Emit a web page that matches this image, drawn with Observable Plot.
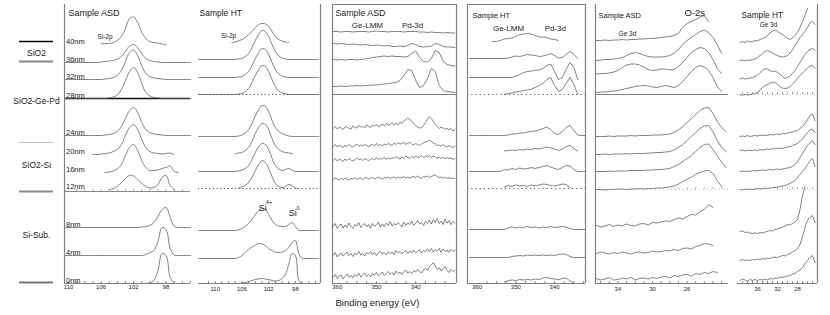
<!DOCTYPE html>
<html><head><meta charset="utf-8">
<script src="https://cdn.jsdelivr.net/npm/d3@7"></script>
<script src="https://cdn.jsdelivr.net/npm/@observablehq/plot@0.6"></script>
<style>
body{margin:0;background:#fff;}
#chart{position:relative;width:830px;height:315px;overflow:hidden;background:#fff;}
#chart svg{position:absolute;top:0;overflow:visible;background:transparent;}
</style></head><body><div id="chart"></div>
<script>
const _ = null;
// sputter depths, top to bottom, and their stacking offsets (intensity units)
const depths = ["40nm","36nm","32nm","28nm","24nm","20nm","16nm","12nm","8nm","4nm","0nm"];
const depthOffset = [239,221,204,185,148,129,111,94,56,28,0];

// legend groups
const groupNames = ["SiO2","SiO2-Ge-Pd","SiO2-Si","Si-Sub."];
const groupLabelLevel = [230,182,118,48];
const groupBoundaryLevel = [242,222,141,92,1];

// ---- Si-2p, sample ASD ----
const si2pAsdEnergy = [110.5,110,109.5,109,108.5,108,107.5,107,106.5,106,105.5,105,104.5,104,103.5,103,102.5,102,101.5,101,100.5,100,99.5,99,98.5,98,97.5,97,96.5,96,95.5,95];
const si2pAsd = [
 [_,_,_,_,_,_,_,_,_,0.5,1,1,2,4,8,16,26,27.5,22,12,6,3,2,1.5,0.5,0,_,_,_,_,_,_],
 [0,0,0,0,0,0,0,0,0,0.5,1,1.5,2,3.5,6,11,16.5,18,15,9,4,2,1,0.5,0,0,0,0,0,0,0,0],
 [0,0,0,0,0,0,0,0,0,0,0.5,1,2,4,9,18,27,29.5,24,14,6,3,1.5,1,0.5,0,0,0,0,0,0,0],
 [0,0,0,0,0,0,0,0,0,0,0,0.5,1.5,3.5,9,18,27,31,26,15,6,2.5,1,0.5,0,0,0,0,0,0,0,0],
 [0,0,0,0,0,0,0,0,0,0,0.5,1,2,4,9,17,25,28,23,13,6,3,1.5,1,0.5,0,0,0,0,0,0,0],
 [_,_,_,_,_,_,_,0,0,0.5,1,1.5,3,5,10,19,27,30,25,15,7,3,1.5,1,0.5,1,1.5,0,_,_,_,_],
 [_,_,_,_,_,_,_,_,_,_,0,0.5,1.5,3.5,8,17,25,28,22,12,5,2,2,2.5,4,5,6.5,1,0,_,_,_],
 [_,_,_,_,_,_,_,_,_,_,_,0,1,3,7,11,14,13.5,10,6,3,1.5,2,5,12,14,4,0,_,_,_,_],
 [0,0,0,0,0,0,0,0,0,0,0,0,0,0,0,0,0,0,0,0.5,1,2,5,11,18,20,10,1,0,0,0,0],
 [0,0,0,0,0,0,0,0,0,0,0,0,0,0,0,0,0,0,0,0,1,3,5,14,28,26,7,0.5,0,0,0,0],
 [_,_,_,_,_,_,_,_,_,_,_,_,_,_,_,_,_,_,_,_,0,0.5,3,13,30,28,6,0,_,_,_,_]
];

// ---- Si-2p, sample HT ----
const si2pHtEnergy = [112.5,112,111.5,111,110.5,110,109.5,109,108.5,108,107.5,107,106.5,106,105.5,105,104.5,104,103.5,103,102.5,102,101.5,101,100.5,100,99.5,99,98.5,98,97.5,97,96.5,96,95.5,95,94.5];
const si2pHt = [
 [_,_,_,_,_,_,_,_,_,_,2,2.5,3.5,5,7,10,13,17,20,21,20.5,18,13,8,5,3.5,2.5,2,_,_,_,_,_,_,_,_,_],
 [3,3,3,3,3,3,3,3,3,3,3,3,3.5,4,6,9,15,22,28,32,31,26,18,11,6.5,4.5,3.5,3,3,3,3,3,3,3,3,3,3],
 [2,2,2,2,2,2,2,2,2,2,2,2,2.5,3,5,8,14,21,27,31,30,25,17,10,5.5,3.5,2.5,2,2,2,2,2,2,2,2,2,2],
 [4,4,4,4,4,4,4,4,4,4,4,4,4.5,5,7,10,16,23,29,33,32,27,19,12,7.5,5.5,4.5,4,4,4,4,4,4,4,4,4,4],
 [-1,-1,-1,-1,-1,-1,-1,-1,-1,-1,-1,-1,-0.5,0.5,2.5,6,12,20,26,30,29,24,15,8,4,2,0.5,-0.5,-1,-1,-1,-1,-1,-1,-1,-1,-1],
 [_,_,_,_,_,_,_,_,_,_,_,1,1.5,2,4,7,13,21,27,31,30,25,16,9,5,3,2,1.5,1,_,_,_,_,_,_,_,_],
 [1,1,1,1,1,1,1,1,1,1,1,1,1.5,2.5,4,7,13,20,26,29,28,23,14,7,3.5,2,3,4,2.5,1,1,1,1,1,1,1,1],
 [_,_,_,_,_,_,_,_,_,_,_,_,1.5,2.5,4,7,12,19,25,29,27,21,13,6,3,2,3,5,4,1.5,1,_,_,_,_,_,_],
 [-3,-3,-3,-3,-3,-3,-3,-3,-3,-3,-3,-3,-2.5,-1,1,4,8,13,17,19,18,13,7,3,1.5,1,1,3,5,1,-3,-3,-3,-3,-3,-3,-3],
 [-3,-3,-3,-3,-3,-3,-3,-3,-3,-3,-3,-3,-2,0,3,6,8.5,10.5,12,11.5,10,7,5,3.5,3,3.5,5,8,13,15,2,-3,-3,-3,-3,-3,-3],
 [_,_,_,_,_,_,_,_,_,_,_,_,0,0.5,1,2,3,4,4.5,5,4.5,4,3,2.5,3,5,9,19,30,28,3,0,_,_,_,_,_]
];

// ---- Ge-LMM / Pd-3d, sample ASD (smooth rows on a 1 eV grid, noisy rows on a 0.5 eV grid) ----
const pdAsdEnergy = [361,360,359,358,357,356,355,354,353,352,351,350,349,348,347,346,345,344,343,342,341,340,339,338,337,336,335,334,333,332,331,330];
const pdAsdEnergyFine = [361,360.5,360,359.5,359,358.5,358,357.5,357,356.5,356,355.5,355,354.5,354,353.5,353,352.5,352,351.5,351,350.5,350,349.5,349,348.5,348,347.5,347,346.5,346,345.5,345,344.5,344,343.5,343,342.5,342,341.5,341,340.5,340,339.5,339,338.5,338,337.5,337,336.5,336,335.5,335,334.5,334,333.5,333,332.5,332,331.5,331,330.5,330];
const pdAsd = [
 [13,13,12.5,13,13,12.5,13,13,13,12.5,13,13.5,13,13,12.5,13,13,13,12.5,13,13,13,12.5,12.5,12,12.5,12,12,11.5,12,11.5,11.5],
 [19,18.5,19,18.5,18,18.5,18,17.5,18,17.5,17,17.5,17,16.5,17,16,16,16.5,16,17,19,18,16,15.5,16,16.5,19,18,16,15.5,15.5,15],
 [20,19.5,20,19.5,20,20,19.5,20,20.5,21,22,22.5,23,23.5,23,23.5,23,23,22.5,23,26,28.5,22,18,17.5,21,29,27,18,15,14,13.5],
 [12,12,12.5,12,12.5,12.5,13,12.5,13,13,13.5,13.5,14,14.5,15,15.5,16,18,23,29,28,18,11,13,20,30,27,13,8,7,6.5,6],
 [7,9,6.5,8,7.5,6,8.5,9,7,6.5,9.5,8,7.5,10,8.5,9,7.5,10.5,9,8,10.5,9.5,11,8.5,10,11.5,9.5,12,10.5,11,13,10.5,12,11,13.5,12,14.5,16,17.5,16,14.5,12,10,8.5,7.5,8,10,13,16.5,19,17,14,11,9,7,8.5,7.5,6,7.5,5.5,7,4.5,6],
 [8,10,7.5,9,8.5,7,9.5,8,10,8.5,7.5,9,10.5,8,9.5,8.5,10,9,7.5,9.5,10,8.5,11,9,10,8.5,10.5,9.5,11,10,9,11.5,10,12,10.5,11,12.5,10,11.5,12,10.5,9.5,11,10,9,10.5,11.5,12.5,13,14.5,13,11.5,10.5,9,9.5,8,10,8.5,7.5,9,8,7,8.5],
 [12,14,11.5,13,12.5,11,13.5,12,14,12.5,11.5,13,14.5,12.5,13.5,12,14,13,11.5,13.5,14,12.5,15,13,14,13.5,15.5,13,14.5,13.5,15,14,16,14.5,13.5,15.5,14,16.5,15,14,16,14.5,16.5,15,15.5,17,15,16.5,15.5,17,15,16.5,15.5,14,15.5,14,15.5,13.5,15,14,14.5,13,14],
 [10,11.5,10.5,9.5,11,10,11.5,10.5,9.5,11,10.5,12,10,11,11.5,10,11.5,12,10.5,11,12,10.5,11.5,12.5,11,10.5,12,11.5,12.5,11,12,12.5,11,12.5,11.5,12,13,11.5,12.5,11.5,12.5,13,12,13.5,12,11.5,13,12.5,13.5,12,13,14,14.5,13,12,12.5,11.5,12,11,12,11,11.5,11],
 [1,4,-1,2,3.5,-0.5,2.5,0,4.5,1,-1,3,1.5,5,0,2.5,4,0.5,3,-0.5,4,1.5,2.5,5.5,0.5,3.5,1,4.5,2,6,1.5,4,2.5,5,3,0.5,5.5,2,4.5,3,6.5,2.5,4,7,3.5,5,2,6,4,7.5,3.5,8,5,9,4,6.5,3,8.5,4.5,7,3,6,4.5],
 [0,3,-1.5,1,2.5,-0.5,1.5,3.5,0,2,-1,2.5,1,4,0.5,2,-0.5,3,1.5,4,1,3,0,2.5,4.5,1.5,3,0.5,4,2,3.5,1,5,2.5,4,1.5,3.5,5,2,4.5,2.5,5.5,3,4,6,2.5,5,3.5,6.5,4,7,3.5,6,4.5,7,3,6.5,4,5.5,3,6,4,5.5],
 [6,9,5,7.5,8.5,4.5,7,9.5,6,8,5.5,9,7,10,6.5,8.5,10.5,7,9,6.5,10,8,11,7.5,9.5,11.5,8,10,12,9,11,8.5,12.5,10,11.5,9,12,13.5,10.5,12,10,13,11.5,14,12,10.5,13.5,15,13,17,19,21,17.5,14,16,12.5,15,17,13,11,14,12,13]
];

// ---- Ge-LMM / Pd-3d, sample HT ----
const pdHtEnergy = [362,361,360,359,358,357,356,355,354,353,352,351,350,349,348,347,346,345,344,343,342,341,340,339,338,337,336,335,334,333,332];
const pdHt = [
 [_,_,_,_,_,_,3,3,4,5.5,6,6.5,8,10,10.5,11,10.5,9,7.5,7.5,7,5.5,5,4,_,_,_,_,_,_,_],
 [4,4,4,4,4,4,4,4,4,4,4.5,5.5,6.5,6,7,8,7.5,7,6,6.5,7.5,9,7,4.5,5,8,11,8,4,_,_],
 [2,2,2,2,2,2,2,2,2,2,2,2,3.5,5,7,8,8.5,9,9.5,11,14,15.5,8,0,2,10,17,12,0,_,_],
 [_,_,_,_,_,_,_,_,_,4,5,5.5,6.5,7,8,8.5,9.5,11,13,15,19,21,13,7,9,15,21,14,4,_,_],
 [0,0,0,0,0,0,0,0,0,0,0.5,1.5,1.5,2.5,2.5,3.5,4,4.5,5.5,7,8.5,6,2,1,4,8,10,5,0.5,0,0],
 [_,_,_,_,_,_,_,_,_,3.5,4,4.5,4,5,4.5,5.5,5,6,5.5,6.5,7.5,6.5,5.5,4,5.5,8,9,6,3.5,_,_],
 [1,1,1,1,1,1,1,1,1,3,2.5,4,3,4.5,3.5,4,5,4,5,6,7,5.5,4,3,5,7,6.5,3,1,1,1],
 [_,_,_,_,_,_,_,_,_,2.5,4,3,4.5,3.5,4,3,4.5,3.5,4.5,5.5,5,4,3.5,4.5,5.5,5,2,_,_,_,_],
 [-2,-2,-2,-2,-2,-2,-2,-2,-2,-2,-0.5,0.5,-0.5,0.5,0,1,0,0.5,-0.5,0.5,0,1,0,0.5,1,0.5,-1,-2,-2,-2,-2],
 [-2,-2,-2,-2,-2,-2,-2,-2,-2,-2,-2,-1,-0.5,0,-0.5,0.5,0,0.5,0,0.5,0,0.5,0,1,1.5,1,-1,-2,-2,-2,-2],
 [_,_,_,_,_,_,_,_,_,1.5,3,3.5,3,4,3.5,4,3.5,4.5,4,5.5,6,5,4.5,4,5,5.5,2.5,0,_,_,_]
];

// ---- Ge 3d / O-2s, sample ASD ----
const ge3dAsdEnergy = [36.5,36,35.5,35,34.5,34,33.5,33,32.5,32,31.5,31,30.5,30,29.5,29,28.5,28,27.5,27,26.5,26,25.5,25,24.5,24,23.5,23,22.5,22,21.5];
const ge3dAsd = [
 [4,4,4.5,4,4.5,4.5,5,4.5,5,5,5.5,5.5,6,6,6.5,7,7.5,8,9,11,17,21,23,25,27.5,29,23,_,_,_,_],
 [2,2.5,3,3,3.5,4,5,7,9,10,9,7.5,6,5.5,5.5,5.5,6,7,9,13,18,22,25,28,31,32.5,30,25,18,9,_],
 [5.5,6,6,6.5,7.5,9,12,14.5,15.5,15.5,14.5,12.5,10,9,9.5,10.5,10.5,9.5,10,13,17,22,27,30,32,31,27,20,11,6,_],
 [6,6.5,6.5,7,7.5,8,9,10,11,12,12.5,13,12.5,11.5,11,12,13,12,11,13,17,22,27,31,33,31.5,28,21,12,7,_],
 [-1,-1,-1,-0.5,-1,-0.5,-0.5,-0.5,0,-0.5,0,0,0,0.5,0.5,0.5,1,1.5,3,5.5,9,13,17,21,25,27.5,28,22,14,8,4],
 [0,0,0.5,0,0.5,0.5,0.5,1,0.5,1,1,1,1.5,1.5,2,2,2.5,3,4.5,7,10,14,18,22,26,28.5,29,23,14,7,3],
 [1,1,1,1.5,1,1.5,1.5,1.5,2,2,2,2,2.5,2.5,3,3,3.5,4,6,8,11,14,17,21,25,28,28.5,23,17,10,5],
 [0,0,-0.5,0,0,0.5,0.5,0,0.5,0.5,1,0.5,1,1,1.5,1.5,2,2.5,3.5,5.5,8,10,12.5,15,17,18.5,19,16,9,3,_],
 [2,0.5,1.5,3,1,2.5,1.5,3.5,2,1.5,3.5,4,2.5,5,4.5,5.5,6.5,6,8,9.5,8.5,11,13,12.5,16,18,23,20,_,_,_],
 [2,3.5,2.5,1.5,3,2,3.5,2.5,1.5,3,3.5,2.5,3,4.5,3.5,4,5,4.5,6,5,7,7.5,6.5,9,10,12,11.5,10,_,_,_],
 [5,3.5,4.5,6,3.5,4,5.5,4.5,6,3.5,5,5.5,4.5,6,5,6.5,7,5.5,8,7,8.5,9,7.5,10,9,11,10,12,11,_,_]
];

// ---- Ge 3d / O-2s, sample HT ----
const ge3dHtEnergy = [39.5,39,38.5,38,37.5,37,36.5,36,35.5,35,34.5,34,33.5,33,32.5,32,31.5,31,30.5,30,29.5,29,28.5,28,27.5,27,26.5,26,25.5,25,24.5];
const ge3dHt = [
 [2,3,2,3.5,2.5,3,4,3.5,5,6,7,9,11.5,13.5,14.5,13,11.5,10,8,6,5,6.5,9,12,17,23,29,36,_,_,_],
 [2,2.5,1.5,2.5,2,3,3.5,5,7,9,11,12,11,9.5,8,7,6,5.5,6,7,9.5,13,17,21,25,28,31,35,40,41,38],
 [0.5,1.5,0.5,1,1.5,2,3,4.5,7,9,10.5,10.5,9,8,8.5,7,5,3,1,2,3.5,6,9,13,17,21,25,28,30,31,29],
 [3.5,3.5,4,3.5,4,4.5,5,6,8,11,13,14,15.5,16.5,16,14,12,10.5,10,10.5,12,14.5,17,20,23,25.5,28,30.5,32.5,33,30],
 [-1,-0.5,-1,0,-1,-0.5,0,-0.5,0.5,0,0.5,0,1,0.5,1,1.5,1,2,1.5,2.5,3,3.5,4.5,5,7,9,12,16,20,21.5,15],
 [4,4.5,3.5,4.5,4,4,4.5,4,5,4.5,5,5.5,5,6,5.5,6,6.5,6,7,7.5,8,9,10,11,13,15.5,18.5,22,24.5,25.5,22],
 [1,1.5,1,1.5,1,2,1.5,2,2,2.5,2,2.5,3,2.5,3,3.5,3,3.5,4,4.5,5,6,8,11,15,19,23,27,30,32,28],
 [0,-0.5,0.5,0,0.5,0,0.5,1,0.5,1,1.5,1,1.5,2,2,2.5,3,3.5,4,5,6,7.5,9,12,15,18,21,25,29,31,23],
 [-4,-3.5,-5,-4.5,-5.5,-6,-5.5,-6,-5,-5.5,-4.5,-4,-3,-3.5,-2,-1.5,-0.5,0.5,1.5,3,2.5,4,5.5,8,18,32,41,_,_,_,_],
 [-5,-4,-5,-4.5,-5,-4,-4.5,-3.5,-4,-3,-3.5,-2.5,-3,-2,-1.5,-2,-1,0,-0.5,1,2,3.5,5,6.5,11,19,28,35,38,40,33],
 [3,4.5,3.5,2.5,4,3,4,3,4,3.5,4.5,3.5,5,4.5,5.5,5,6.5,6,7,7.5,8,9.5,10,12,13.5,16,20,23,26,28,21]
];

// ---------------- drawing ----------------
const FONT = '"Liberation Sans", Arial, Helvetica, sans-serif';
const H = 315, MT = 4, MB = 32, INNER = 279;
const chart = document.getElementById("chart");
const TRACE = "#575757", FRAME = "#808080", INK = "#1a1a1a";

// each row uses whichever energy grid matches its length
function seriesRows(grids, traces) {
  const out = [];
  traces.forEach((vals, t) => {
    const energy = grids.find(g => g.length === vals.length);
    vals.forEach((v, i) =>
      out.push({E: energy[i], level: v == null ? NaN : depthOffset[t] + v, depth: depths[t]}));
  });
  return out;
}

function place(svg, left) { svg.style.left = left + "px"; chart.append(svg); }

function panel(p) {
  const [e0, e1] = p.domain;
  const fr = {stroke: FRAME, strokeWidth: 1.2};
  const marks = [];
  for (const d of p.dividers) {
    marks.push(Plot.ruleY([d.level], {stroke: d.stroke, strokeWidth: d.width, strokeDasharray: d.dash}));
    if (d.ticks) marks.push(Plot.ruleX(d.ticks, {y1: d.level, y2: d.level + 1.8, stroke: d.stroke, strokeWidth: 0.8}));
  }
  marks.push(Plot.line(seriesRows(p.grids, p.traces),
    {x: "E", y: "level", z: "depth", stroke: TRACE, strokeWidth: 0.75, curve: p.curve}));
  if (p.frame.includes("left")) marks.push(Plot.ruleX([e0], fr));
  if (p.frame.includes("right")) marks.push(Plot.ruleX([e1], fr));
  if (p.frame.includes("top")) marks.push(Plot.ruleY([INNER], fr));
  marks.push(Plot.ruleY([0], fr));
  marks.push(Plot.ruleX(p.minor, {y1: 0, y2: 1.8, stroke: "#555", strokeWidth: 0.8}));
  marks.push(Plot.axisX(p.ticks, {tickSize: 0, tickPadding: p.tickPad, fontSize: 6, label: null, fill: INK}));
  marks.push(Plot.text([p.title], {frameAnchor: "top-left", textAnchor: "start", lineAnchor: "middle",
    dx: p.titleDx, dy: p.titleDy, fontSize: p.titleSize, fill: INK}));
  for (const a of p.notes) {
    marks.push(Plot.text([a], {x: "E", y: "level", text: "text", fontSize: a.size, fill: INK, textAnchor: "middle"}));
  }
  if (p.depthLabels) {
    marks.push(Plot.text(depths.map((d, i) => ({d, level: depthOffset[i]})),
      {y: "level", text: "d", frameAnchor: "left", textAnchor: "start", dx: 1.5, dy: -3, fontSize: 7.5, fill: INK}));
  }
  if (p.xLabel) {
    marks.push(Plot.text([p.xLabel], {frameAnchor: "bottom-left", textAnchor: "start", lineAnchor: "middle",
      dx: 3, dy: 19, fontSize: 9.5, fill: INK}));
  }
  const svg = Plot.plot({
    width: p.width, height: H, marginLeft: 0, marginRight: 0, marginTop: MT, marginBottom: MB,
    x: {domain: p.domain, axis: null, label: null},
    y: {domain: [0, INNER], axis: null, label: null},
    style: {fontFamily: FONT, background: "transparent", overflow: "visible"},
    marks
  });
  place(svg, p.left);
}

// legend column
(function legend() {
  const colors = ["#000000", "#8a8a8a", "#c4c4c4", "#8a8a8a", "#7a7a7a"];
  const widths = [1.3, 1.8, 1.2, 1.8, 2.2];
  const svg = Plot.plot({
    width: 64, height: H, marginLeft: 0, marginRight: 0, marginTop: MT, marginBottom: MB,
    y: {domain: [0, INNER], axis: null},
    style: {fontFamily: FONT, background: "transparent", overflow: "visible"},
    marks: [
      Plot.ruleY(groupBoundaryLevel, {stroke: (d, i) => colors[i], strokeWidth: (d, i) => widths[i], insetLeft: 19, insetRight: 11}),
      Plot.text(groupNames, {y: (d, i) => groupLabelLevel[i], text: d => d, frameAnchor: "middle", dx: 4, fontSize: 8.5, fill: INK})
    ]
  });
  place(svg, 0);
})();

panel({
  left: 64, width: 126, domain: [110.5, 95], grids: [si2pAsdEnergy], traces: si2pAsd, curve: "catmull-rom",
  ticks: [110, 106, 102, 98], minor: d3.range(110, 94.5, -1), tickPad: 1.5,
  frame: ["left"], depthLabels: true,
  dividers: [{level: 185, stroke: "#111", width: 1.4}, {level: 92, stroke: "#8a8a8a", width: 1.1, ticks: d3.range(109, 95, -1)}],
  title: "Sample ASD", titleDx: 4, titleDy: 9, titleSize: 9,
  notes: [{text: "Si-2p", E: 105.5, level: 247, size: 6.5}]
});

panel({
  left: 198, width: 122, domain: [112.5, 94.25], grids: [si2pHtEnergy], traces: si2pHt, curve: "catmull-rom",
  ticks: [110, 106, 102, 98], minor: d3.range(111, 94.5, -1), tickPad: 3,
  frame: ["right"],
  dividers: [{level: 189, stroke: "#555", width: 1, dash: "1.2,2.5"}, {level: 95, stroke: "#555", width: 1, dash: "1.2,2.5"}],
  title: "Sample HT", titleDx: 1, titleDy: 9, titleSize: 8.5,
  notes: [
    {text: "Si-2p", E: 108, level: 248, size: 6.5},
    {text: "Si", E: 102.9, level: 75, size: 9},
    {text: "4+", E: 101.95, level: 81, size: 5.5},
    {text: "Si", E: 98.4, level: 70, size: 9},
    {text: "0", E: 97.6, level: 75, size: 5.5}
  ]
});

panel({
  left: 332, width: 124, domain: [361.2, 329.6], grids: [pdAsdEnergy, pdAsdEnergyFine], traces: pdAsd, curve: "linear",
  ticks: [360, 350, 340], minor: d3.range(357.5, 330, -2.5), tickPad: 1.5,
  frame: ["left", "right", "top"],
  dividers: [{level: 189, stroke: FRAME, width: 1.2}],
  title: "Sample ASD", titleDx: 3, titleDy: 9, titleSize: 8.8,
  xLabel: "Binding energy (eV)",
  notes: [{text: "Ge-LMM", E: 352.3, level: 258, size: 8}, {text: "Pd-3d", E: 340.8, level: 258, size: 8}]
});

panel({
  left: 467, width: 118, domain: [362.5, 332], grids: [pdHtEnergy], traces: pdHt, curve: "linear",
  ticks: [360, 350, 340], minor: d3.range(357.5, 332, -2.5), tickPad: 1.5,
  frame: ["left", "right", "top"],
  dividers: [{level: 189, stroke: "#555", width: 1, dash: "1.2,3"}, {level: 95, stroke: "#555", width: 1, dash: "1.2,3"}],
  title: "Sample HT", titleDx: 5, titleDy: 11, titleSize: 7.5,
  notes: [{text: "Ge-LMM", E: 351.9, level: 255, size: 8}, {text: "Pd-3d", E: 339.8, level: 255, size: 8}]
});

panel({
  left: 595, width: 133, domain: [36.6, 21.2], grids: [ge3dAsdEnergy], traces: ge3dAsd, curve: "linear",
  ticks: [34, 30, 26], minor: d3.range(36, 21.5, -1), tickPad: 3,
  frame: ["left"],
  dividers: [{level: 189, stroke: FRAME, width: 1.2}, {level: 94, stroke: "#999", width: 0.6, dash: "1,3", ticks: d3.range(27, 21.5, -1)}],
  title: "Sample ASD", titleDx: 3, titleDy: 11, titleSize: 7.5,
  notes: [{text: "Ge 3d", E: 32.9, level: 250, size: 6.5}, {text: "O-2s", E: 25.1, level: 271, size: 9.5}]
});

panel({
  left: 737, width: 80, domain: [40, 24], grids: [ge3dHtEnergy], traces: ge3dHt, curve: "linear",
  ticks: [36, 32, 28], minor: d3.range(39, 24.5, -1), tickPad: 3,
  frame: ["right"],
  dividers: [{level: 189, stroke: "#777", width: 0.6, dash: "1,2.5", ticks: d3.range(39, 24.5, -1)},
             {level: 94, stroke: "#999", width: 0.6, dash: "1,3", ticks: d3.range(32, 24.5, -1)}],
  title: "Sample HT", titleDx: 4, titleDy: 11, titleSize: 8.3,
  notes: [{text: "Ge 3d", E: 33.8, level: 259, size: 6.5}]
});
</script></body></html>
